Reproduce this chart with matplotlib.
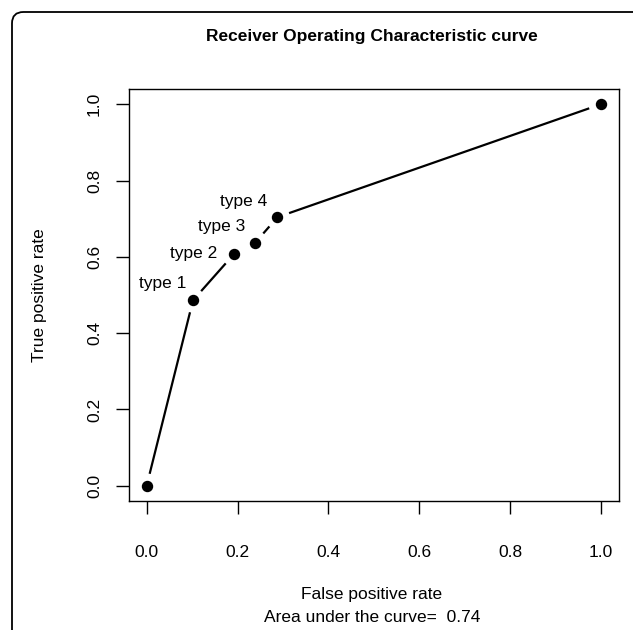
import numpy as np
import matplotlib
matplotlib.use("Agg")
import matplotlib.pyplot as plt
from matplotlib.patches import FancyBboxPatch

plt.rcParams['font.family'] = ['Liberation Sans', 'DejaVu Sans']

# ROC points
fpr = [0.0, 0.102, 0.192, 0.239, 0.288, 1.0]
tpr = [0.0, 0.486, 0.607, 0.637, 0.704, 1.0]
point_labels = ["", "type 1", "type 2", "type 3", "type 4", ""]
# label offsets from the point (points), right-aligned text
label_offsets = [None, (-4.5, 12.0), (-12.0, 0.5), (-7.0, 11.5), (-7.2, 11.5), None]
ticks = [0.0, 0.2, 0.4, 0.6, 0.8, 1.0]
tick_labels = ["0.0", "0.2", "0.4", "0.6", "0.8", "1.0"]

W, H = 633, 630
FS = 12.5
fig = plt.figure(figsize=(W / 100, H / 100), dpi=100)


def fx(px):
    return px / W


def fy(py):
    return 1 - py / H


# outer rounded frame, right and bottom run off the image
frame = FancyBboxPatch((fx(12), fy(660)), fx(650), fy(12) - fy(660),
                       boxstyle="round,pad=0,rounding_size=0.018",
                       transform=fig.transFigure, fill=False,
                       edgecolor='black', linewidth=1.3)
fig.patches.append(frame)

ax = fig.add_axes([fx(128.5), fy(501), fx(619 - 128.5), fy(89) - fy(501)])
ax.set_xlim(-0.04, 1.04)
ax.set_ylim(-0.04, 1.04)

# R style type="b": segments with gaps around the points
pts = ax.transData.transform(np.column_stack([fpr, tpr]))
gap = 12.3  # pixels
for i in range(len(pts) - 1):
    p0, p1 = pts[i], pts[i + 1]
    d = p1 - p0
    length = np.hypot(*d)
    if length <= 2 * gap:
        continue
    u = d / length
    a = ax.transData.inverted().transform(p0 + u * gap)
    b = ax.transData.inverted().transform(p1 - u * gap)
    ax.plot([a[0], b[0]], [a[1], b[1]], color='black', lw=1.6,
            solid_capstyle='butt')

ax.plot(fpr, tpr, 'o', color='black', markersize=7.2, linestyle='none')

for x, y, lab, off in zip(fpr, tpr, point_labels, label_offsets):
    if lab:
        ax.annotate(lab, (x, y), xytext=off, textcoords='offset points',
                    ha='right', va='center', fontsize=FS)

ax.set_xticks(ticks)
ax.set_xticklabels(tick_labels)
ax.set_yticks(ticks)
ax.set_yticklabels(tick_labels, rotation=90, va='center')
ax.tick_params(direction='out', length=9.5, width=1.0, labelsize=FS, pad=22.5)
ax.tick_params(axis='y', pad=9.5)
for s in ax.spines.values():
    s.set_linewidth(1.0)

fig.text(fx(372), fy(37), "Receiver Operating Characteristic curve",
         ha='center', va='center', fontsize=FS, fontweight='bold')
fig.text(fx(372), fy(594), "False positive rate", ha='center', va='center', fontsize=FS)
fig.text(fx(372), fy(618), "Area under the curve=  0.74", ha='center', va='center', fontsize=FS)
fig.text(fx(40), fy(295), "True positive rate", ha='center', va='center',
         rotation=90, fontsize=FS)

fig.savefig("out.png", dpi=100)
